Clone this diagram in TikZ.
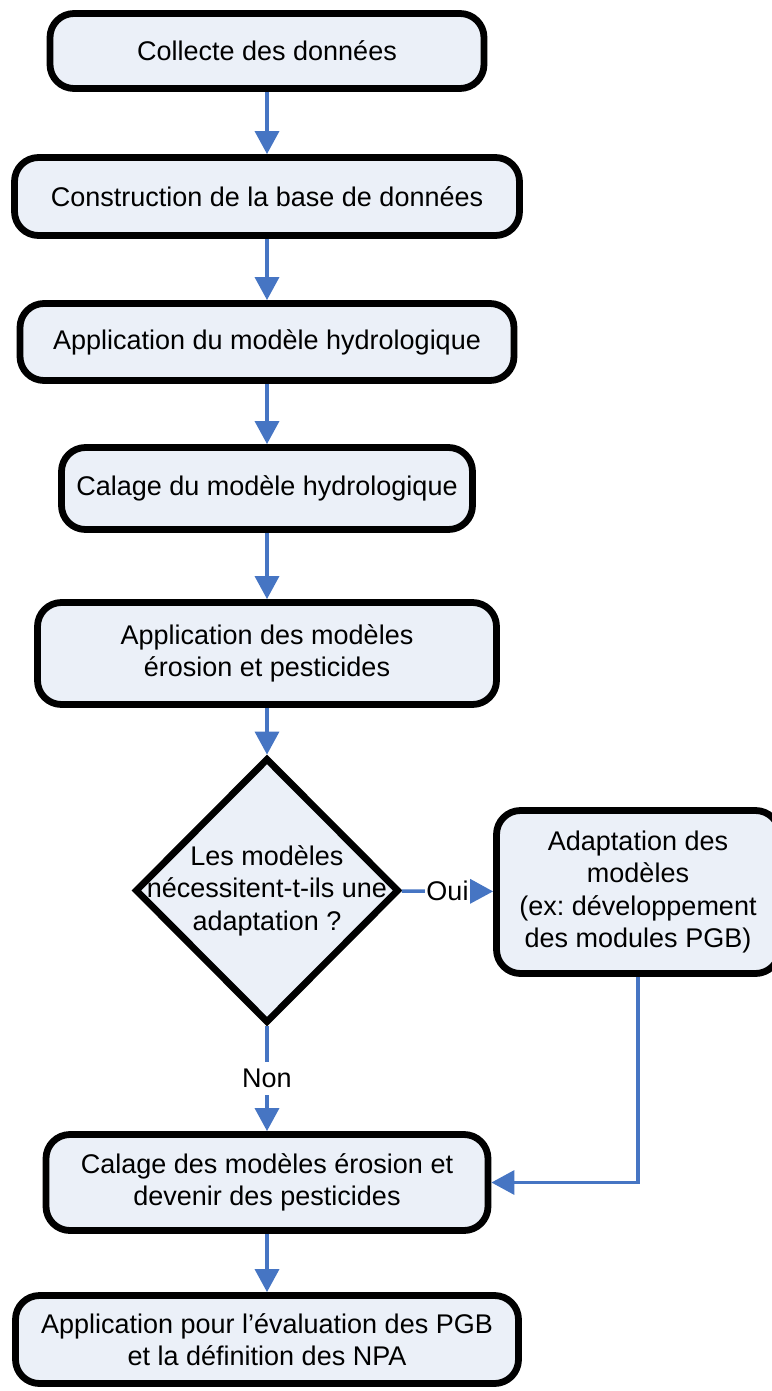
\documentclass[tikz,border=0pt]{standalone}
\usepackage{fontspec}
\setmainfont{Liberation Sans}
\usepackage{xcolor}
\usepackage{tikz}
\usetikzlibrary{
  positioning,
  arrows.meta,
  shapes.geometric
}

\definecolor{boxfill}{HTML}{EBF0F8}
\definecolor{flowblue}{HTML}{4675C3}
\frenchspacing

\begin{document}
\begin{tikzpicture}[x=1pt,y=-1pt,
    font=\fontsize{27}{32.5}\selectfont,
    stage/.style={draw=black, line width=6.8pt, fill=boxfill, rounded corners=24pt,
      align=center, inner sep=0pt},
    decision/.style={draw=black, line width=6.8pt, fill=boxfill, diamond,
      inner sep=0pt},
    flow/.style={draw=flowblue, line width=3.5pt,
      -{Triangle[length=23pt,width=24pt]}},
    answer/.style={fill=white, inner xsep=1pt, inner ysep=7pt, text=black}]
  \useasboundingbox (0,0) rectangle (771,1391);

  \node[stage, minimum width=434pt, minimum height=75pt]  (collecte) at (267,51)     {Collecte des données};
  \node[stage, minimum width=505pt, minimum height=78pt]  (base)     at (267,196.5)  {Construction de la base de données};
  \node[stage, minimum width=494pt, minimum height=77pt]  (hydro)    at (267,342)    {Application du modèle hydrologique};
  \node[stage, minimum width=411pt, minimum height=82pt]  (calage)   at (267,488.5)  {Calage du modèle hydrologique};
  \node[stage, minimum width=459pt, minimum height=102pt] (erosion)  at (267,653.5)  {Application des modèles\\érosion et pesticides};
  \node[decision, minimum width=264pt, minimum height=265pt,
        label={[align=center]center:Les modèles\\nécessitent-t-ils une\\adaptation ?}]
                                                          (question) at (267,890.5)  {};
  \node[stage, minimum width=283pt, minimum height=163pt] (adapt)    at (638,892)    {Adaptation des\\modèles\\(ex: développement\\des modules PGB)};
  \node[stage, minimum width=442pt, minimum height=96pt]  (calageb)  at (267,1182.5) {Calage des modèles érosion et\\devenir des pesticides};
  \node[stage, minimum width=503pt, minimum height=88pt]  (npa)      at (267,1339.5) {Application pour l’évaluation des PGB\\et la définition des NPA};

  \draw[flow] (collecte) -- (base);
  \draw[flow] (base) -- (hydro);
  \draw[flow] (hydro) -- (calage);
  \draw[flow] (calage) -- (erosion);
  \draw[flow] (erosion) -- (question);
  \draw[flow] (question) -- node[answer] {Oui} (adapt);
  \draw[flow] (question) -- node[answer] {Non} (calageb);
  \draw[flow] (adapt.south) |- (calageb.east);
  \draw[flow] (calageb) -- (npa);
\end{tikzpicture}
\end{document}
